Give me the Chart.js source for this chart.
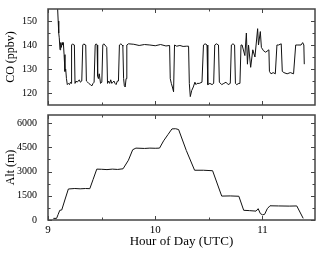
<!DOCTYPE html>
<html><head><meta charset="utf-8">
<script src="https://cdn.jsdelivr.net/npm/chart.js@4.4.0/dist/chart.umd.min.js"></script>
<style>
html,body{margin:0;padding:0;background:#fff;width:320px;height:253px;overflow:hidden}
#w1{position:absolute;left:0;top:0;width:320px;height:114px}
#w2{position:absolute;left:0;top:106px;width:320px;height:147px}
</style></head><body>
<div id="w1"><canvas id="c1" width="320" height="114"></canvas></div>
<div id="w2"><canvas id="c2" width="320" height="147"></canvas></div>
<script>
// ---- data ----
const coTime = [9.090,9.095,9.100,9.105,9.112,9.118,9.125,9.132,9.138,9.143,9.150,9.158,9.165,9.172,9.180,9.190,9.200,9.210,9.216,9.220,9.230,9.240,9.246,9.252,9.262,9.272,9.282,9.292,9.302,9.315,9.324,9.335,9.345,9.352,9.358,9.370,9.380,9.395,9.410,9.420,9.430,9.440,9.450,9.458,9.463,9.470,9.478,9.490,9.502,9.511,9.520,9.530,9.540,9.548,9.555,9.565,9.575,9.585,9.595,9.605,9.615,9.625,9.635,9.647,9.657,9.666,9.680,9.692,9.698,9.705,9.712,9.720,9.728,9.735,9.750,9.800,9.850,9.900,9.950,10.000,10.050,10.100,10.134,10.140,10.150,10.160,10.171,10.180,10.200,10.230,10.260,10.290,10.311,10.318,10.327,10.340,10.355,10.370,10.380,10.390,10.410,10.436,10.450,10.465,10.483,10.490,10.510,10.530,10.545,10.555,10.570,10.590,10.598,10.620,10.640,10.660,10.680,10.700,10.710,10.725,10.740,10.748,10.760,10.780,10.790,10.800,10.810,10.836,10.850,10.860,10.870,10.890,10.910,10.930,10.955,10.963,10.980,10.990,11.010,11.030,11.060,11.065,11.080,11.100,11.120,11.135,11.150,11.175,11.185,11.200,11.230,11.260,11.290,11.310,11.330,11.360,11.375,11.386,11.390];
const coValue = [155,150,145,143,138,141,139,141,140,141,136,129,130,126,123.5,124,123.5,124.5,124,140,140.5,140,140,124,125,124.5,125,125.5,124.5,125,140,140.5,140,140,125,124.5,124,123.5,123,124,124.5,140,140.5,140,127,126,128,124,124.5,140,140.5,140,139.5,139,124,125,124,125.5,124,124.5,125,124,123.5,125,125,140,140.5,140,139.5,126,123,122.5,126,140,140.5,140.3,139.8,140.2,140,139.7,140.2,139.6,139.8,126,124,122.5,120.5,140,139.5,139.8,139.4,139.5,139.5,124,118.5,121,122.5,124.5,123.5,124,124,124.5,140,140.5,140,123.5,124,123.5,124,140,140.5,140,124.5,123.5,124,124.5,123.5,124,140,140.5,140,124,123.5,124,124,140,140,135.6,145,132,140,130.7,138,135,146.8,140,145.6,139,137.6,137,138,129,128,128.5,128,140,140,140.5,129,128.5,128,128.5,128,140,140,140,141,140,132];
const altTime = [9.050,9.080,9.095,9.110,9.128,9.160,9.190,9.250,9.300,9.350,9.390,9.420,9.455,9.500,9.550,9.600,9.650,9.700,9.750,9.790,9.820,9.900,9.950,10.000,10.040,10.078,10.120,10.156,10.190,10.218,10.290,10.367,10.450,10.535,10.620,10.700,10.780,10.825,10.880,10.940,10.960,10.980,11.000,11.020,11.045,11.070,11.150,11.250,11.320,11.380];
const altValue = [100,100,350,600,620,1300,1920,1950,1930,1950,1940,2500,3150,3140,3120,3150,3130,3170,3700,4350,4450,4430,4450,4440,4450,4900,5300,5640,5650,5600,4300,3080,3080,3050,1480,1490,1470,600,580,550,700,400,320,350,700,880,870,860,870,100];
const xMajor = [9,10,11];
const xMinor = [9.5,10.5,11.5];
const coMajor = [120,130,140,150];
const coMinor = [125,135,145];
const altMajor = [0,1500,3000,4500,6000];
const altMinor = [750,2250,3750,5250];

const FONT = "'Liberation Serif','Times New Roman',serif";

const framePlugin = {
  id:'frame',
  afterDraw(chart, args, o){
    const {ctx, chartArea:a} = chart;
    const x = chart.scales.x, y = chart.scales.y;
    ctx.save();
    ctx.strokeStyle = '#444';
    ctx.lineWidth = 1;
    const seg=(x1,y1,x2,y2)=>{ctx.beginPath();ctx.moveTo(x1,y1);ctx.lineTo(x2,y2);ctx.stroke();};
    const xt=(vals,len)=>vals.forEach(v=>{const p=Math.round(x.getPixelForValue(v))+0.5; if(p<a.left||p>a.right-1)return; seg(p,a.bottom,p,a.bottom-len); seg(p,a.top,p,a.top+len);});
    const yt=(vals,len)=>vals.forEach(v=>{const p=Math.round(y.getPixelForValue(v))+0.5; seg(a.left,p,a.left+len,p); seg(a.right,p,a.right-len,p);});
    xt(o.xMajor,4); xt(o.xMinor,2.5); yt(o.yMajor,4); yt(o.yMinor,2.5);
    ctx.lineWidth = 1.5;
    ctx.strokeRect(a.left, a.top, a.right-a.left, a.bottom-a.top);
    ctx.restore();
  }
};

function makeChart(id, t, v, yMin, yMax, yMajor, yMinor, yTitle, showX, pad){
  return new Chart(document.getElementById(id), {
    type:'scatter',
    data:{datasets:[{data:t.map((tt,i)=>({x:tt,y:v[i]})), showLine:true, borderColor:'#111', borderWidth:1, pointRadius:0, tension:0}]},
    options:{
      responsive:false, animation:false, events:[],
      layout:{padding:pad},
      plugins:{legend:{display:false}, tooltip:{enabled:false},
        frame:{xMajor, xMinor, yMajor, yMinor}},
      scales:{
        x:{type:'linear', min:9, max:11.49, display:showX,
          afterBuildTicks:s=>{s.ticks = xMajor.map(v=>({value:v}));},
          afterFit:s=>{ s.height = showX ? 29 : 0; },
          grid:{display:false}, border:{display:false},
          ticks:{color:'#000', font:{family:FONT,size:11}, padding:-4, maxRotation:0, autoSkip:false, callback:v=>String(v)},
          title:{display:true, text:'Hour of Day (UTC)', color:'#000', font:{family:FONT,size:13}, padding:{top:0,bottom:0}}},
        y:{type:'linear', min:yMin, max:yMax,
          afterBuildTicks:s=>{s.ticks = yMajor.map(v=>({value:v}));},
          afterFit:s=>{ s.width = 48; },
          grid:{display:false}, border:{display:false},
          ticks:{color:'#000', font:{family:FONT,size:10}, padding:3, autoSkip:false, callback:v=>String(v)},
          title:{display:true, text:yTitle, color:'#000', font:{family:FONT,size:12}, padding:{top:4,bottom:0}}}
      }
    },
    plugins:[framePlugin]
  });
}

makeChart('c1', coTime, coValue, 115, 155, coMajor, coMinor, 'CO (ppbv)', false, {left:0,right:5,top:5,bottom:2});
makeChart('c2', altTime, altValue, 0, 6500, altMajor, altMinor, 'Alt (m)', true, {left:0,right:5,top:6,bottom:4});
</script>
</body></html>
